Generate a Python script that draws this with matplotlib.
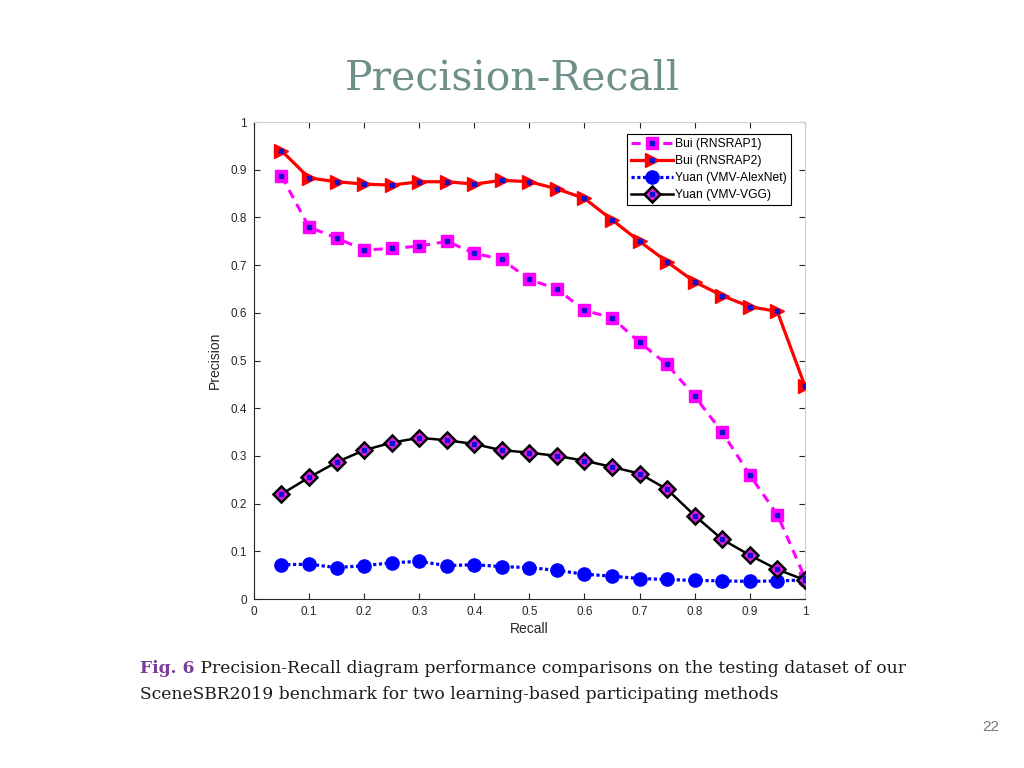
import matplotlib
matplotlib.use("Agg")
import matplotlib.pyplot as plt
from matplotlib.legend_handler import HandlerTuple

# ----------------------------------------------------------------------------
# Data
# ----------------------------------------------------------------------------
recall = [0.05, 0.10, 0.15, 0.20, 0.25, 0.30, 0.35, 0.40, 0.45, 0.50,
          0.55, 0.60, 0.65, 0.70, 0.75, 0.80, 0.85, 0.90, 0.95, 1.00]

rnsrap1 = [0.887, 0.780, 0.757, 0.732, 0.735, 0.740, 0.750, 0.725, 0.712, 0.670,
           0.650, 0.605, 0.590, 0.538, 0.492, 0.425, 0.350, 0.260, 0.177, 0.045]
rnsrap2 = [0.940, 0.883, 0.875, 0.870, 0.868, 0.875, 0.875, 0.870, 0.878, 0.875,
           0.860, 0.840, 0.795, 0.750, 0.707, 0.665, 0.636, 0.613, 0.603, 0.447]
alexnet = [0.072, 0.073, 0.066, 0.070, 0.076, 0.079, 0.070, 0.072, 0.068, 0.066,
           0.060, 0.052, 0.048, 0.043, 0.041, 0.039, 0.038, 0.037, 0.038, 0.040]
vgg = [0.220, 0.255, 0.287, 0.312, 0.328, 0.338, 0.333, 0.325, 0.312, 0.307,
       0.300, 0.290, 0.277, 0.263, 0.230, 0.175, 0.125, 0.092, 0.062, 0.040]

labels = ["Bui (RNSRAP1)", "Bui (RNSRAP2)", "Yuan (VMV-AlexNet)", "Yuan (VMV-VGG)"]
ticks = [0, 0.1, 0.2, 0.3, 0.4, 0.5, 0.6, 0.7, 0.8, 0.9, 1]
ticklabels = ["0", "0.1", "0.2", "0.3", "0.4", "0.5", "0.6", "0.7", "0.8", "0.9", "1"]

SANS = "Liberation Sans"
SERIF = "DejaVu Serif"

# ----------------------------------------------------------------------------
# Plot
# ----------------------------------------------------------------------------
fig = plt.figure(figsize=(10.24, 7.68), dpi=100)
ax = fig.add_axes([0.248, 0.22, 0.538, 0.621])

series = [
    (rnsrap1, dict(color="#ff00ff", ls=(0, (3, 2.2)), lw=2.2, marker="s",
                   ms=8, mfc="#ff00ff", mec="#ff00ff")),
    (rnsrap2, dict(color="#ff0000", ls="-", lw=2.3, marker=">",
                   ms=10.5, mfc="#ff0000", mec="#ff0000")),
    (alexnet, dict(color="#0000ff", ls=(0, (1, 0.8)), lw=2.3, marker="o",
                   ms=9.5, mfc="#0000ff", mec="#0000ff")),
    (vgg, dict(color="black", ls="-", lw=1.8, marker="D",
               ms=8, mfc="#e81ee8", mec="black", mew=1.8)),
]

handles = []
for vals, kw in series:
    line, = ax.plot(recall, vals, **kw, zorder=3)
    if kw["marker"] != "o":
        # small blue centre dot that MATLAB draws in these markers
        dot, = ax.plot(recall, vals, ls="none", marker="s", ms=2.5,
                       mfc="#1010d0", mec="#1010d0", zorder=4)
        handles.append((line, dot))
    else:
        handles.append(line)

ax.set_xlim(0, 1)
ax.set_ylim(0, 1)
ax.set_xticks(ticks)
ax.set_xticklabels(ticklabels)
ax.set_yticks(ticks)
ax.set_yticklabels(ticklabels)
ax.tick_params(direction="in", length=4, width=0.8, top=True, right=True,
               labelsize=8.5, colors="#262626", pad=5)
for lab in ax.get_xticklabels() + ax.get_yticklabels():
    lab.set_fontfamily(SANS)
for sp in ax.spines.values():
    sp.set_linewidth(0.8)
    sp.set_color("#262626")
ax.spines["top"].set_color("#cfcfcf")
ax.spines["right"].set_color("#cfcfcf")

ax.set_xlabel("Recall", fontsize=10, family=SANS, color="#262626", labelpad=3)
ax.set_ylabel("Precision", fontsize=10, family=SANS, color="#262626", labelpad=6)

leg = ax.legend(handles, labels, loc="upper right",
                bbox_to_anchor=(0.975, 0.976),
                handler_map={tuple: HandlerTuple(ndivide=1, pad=0)},
                prop={"family": SANS, "size": 8.7},
                handlelength=3.5, handletextpad=0.15, labelspacing=0.42,
                borderpad=0.35, borderaxespad=0.0, fancybox=False,
                framealpha=1, edgecolor="black")
leg.get_frame().set_linewidth(0.8)

# Slide decorations
fig.text(0.5, 0.898, "Precision-Recall", ha="center", va="center",
         family=SERIF, fontsize=29.5, color="#6f8f8a")
fig_lbl = fig.text(0.137, 0.129, "Fig. 6", ha="left", va="center", family=SERIF,
                   fontsize=12.3, fontweight="bold", color="#7a3d98")
fig.canvas.draw()
bb = fig_lbl.get_window_extent()
x_after = fig.transFigure.inverted().transform((bb.x1, bb.y0))[0]
fig.text(x_after, 0.129,
         " Precision-Recall diagram performance comparisons on the testing dataset of our",
         ha="left", va="center", family=SERIF, fontsize=12.3, color="#1a1a1a")
fig.text(0.137, 0.096,
         "SceneSBR2019 benchmark for two learning-based participating methods",
         ha="left", va="center", family=SERIF, fontsize=12.3, color="#1a1a1a")
fig.text(0.976, 0.053, "22", ha="right", va="center", family=SANS,
         fontsize=11, color="#777777")

fig.savefig("out.png", dpi=100)
